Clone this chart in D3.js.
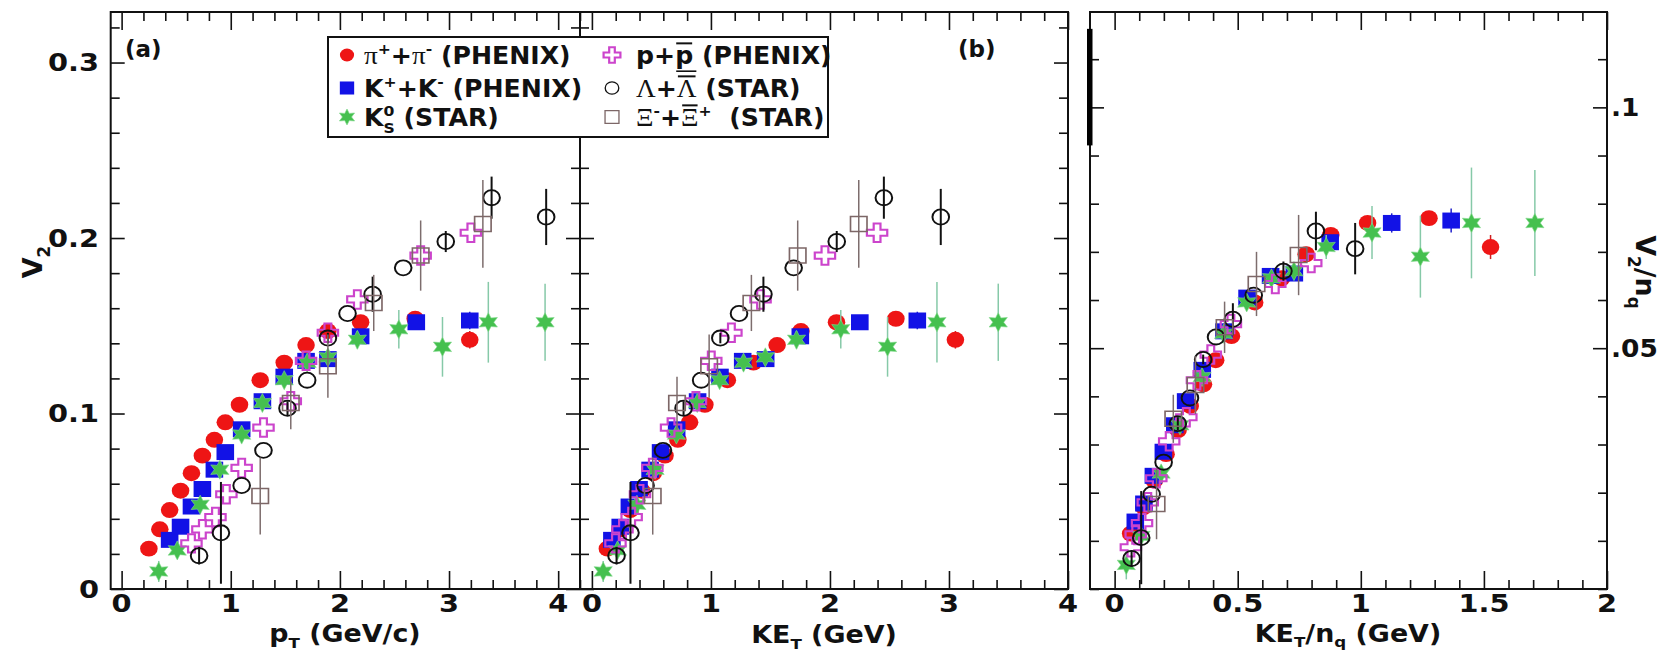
<!DOCTYPE html>
<html>
<head>
<meta charset="utf-8">
<script src="https://cdn.jsdelivr.net/npm/d3@7"></script>
<style>
  html, body { margin: 0; padding: 0; background: #fff; }
  svg { display: block; }
</style>
</head>
<body>
<script>
// ---------------- data ----------------
// pi+ + pi- (PHENIX)
const pionPt  = [0.25, 0.35, 0.44, 0.54, 0.64, 0.74, 0.85, 0.95, 1.08, 1.27, 1.49, 1.69, 1.89, 2.19, 2.69, 3.19];
const pionKEt = [0.130, 0.237, 0.322, 0.418, 0.516, 0.614, 0.722, 0.821, 0.949, 1.138, 1.357, 1.556, 1.756, 2.055, 2.554, 3.054];
const pionV2  = [0.023, 0.034, 0.045, 0.056, 0.066, 0.076, 0.085, 0.095, 0.105, 0.119, 0.129, 0.139, 0.147, 0.152, 0.154, 0.142];
const pionErr = [0, 0, 0, 0, 0, 0, 0, 0, 0, 0, 0, 0, 0, 0, 0.003, 0.005];

// K+ + K- (PHENIX)
const kaonPt  = [0.44, 0.54, 0.64, 0.74, 0.85, 0.95, 1.10, 1.29, 1.49, 1.69, 1.89, 2.19, 2.70, 3.19];
const kaonKEt = [0.168, 0.238, 0.315, 0.396, 0.489, 0.577, 0.712, 0.888, 1.076, 1.267, 1.460, 1.751, 2.251, 2.734];
const kaonV2  = [0.028, 0.0355, 0.047, 0.057, 0.068, 0.078, 0.091, 0.107, 0.121, 0.130, 0.131, 0.144, 0.152, 0.153];
const kaonErr = [0, 0, 0, 0, 0, 0, 0, 0, 0, 0, 0, 0, 0.004, 0.005];

// K0s (STAR)
const k0sPt  = [0.34, 0.51, 0.72, 0.90, 1.10, 1.29, 1.49, 1.70, 1.89, 2.16, 2.54, 2.94, 3.36, 3.88];
const k0sKEt = [0.095, 0.215, 0.378, 0.531, 0.710, 0.885, 1.073, 1.274, 1.457, 1.719, 2.091, 2.484, 2.899, 3.414];
const k0sV2  = [0.010, 0.022, 0.048, 0.068, 0.088, 0.106, 0.119, 0.129, 0.132, 0.142, 0.148, 0.138, 0.152, 0.152];
const k0sErr = [0.006, 0, 0, 0, 0, 0, 0, 0, 0, 0.005, 0.011, 0.017, 0.023, 0.022];

// p + pbar (PHENIX)
const protonPt  = [0.64, 0.74, 0.86, 0.96, 1.10, 1.30, 1.55, 1.69, 1.89, 2.16, 2.74, 3.20];
const protonKEt = [0.198, 0.257, 0.334, 0.404, 0.508, 0.665, 0.874, 1.003, 1.172, 1.417, 1.958, 2.396];
const protonV2  = [0.026, 0.034, 0.041, 0.054, 0.069, 0.092, 0.107, 0.130, 0.146, 0.165, 0.190, 0.203];
const protonErr = [0, 0, 0, 0, 0, 0, 0, 0, 0, 0, 0, 0];

// Lambda + Lambdabar (STAR)
const lambdaPt  = [0.71, 0.91, 1.10, 1.30, 1.52, 1.70, 1.89, 2.07, 2.30, 2.58, 2.97, 3.39, 3.89];
const lambdaKEt = [0.207, 0.324, 0.451, 0.597, 0.770, 0.918, 1.079, 1.236, 1.441, 1.695, 2.057, 2.453, 2.931];
const lambdaV2  = [0.019, 0.032, 0.059, 0.079, 0.103, 0.119, 0.143, 0.157, 0.168, 0.183, 0.198, 0.223, 0.212];
const lambdaErr = [0.005, 0.029, 0, 0, 0.004, 0, 0.003, 0, 0.010, 0, 0.006, 0.012, 0.016];

// Xi- + Xibar+ (STAR)
const xiPt  = [1.27, 1.55, 1.89, 2.31, 2.74, 3.31];
const xiKEt = [0.511, 0.715, 0.985, 1.340, 1.729, 2.242];
const xiV2  = [0.053, 0.106, 0.127, 0.163, 0.190, 0.208];
const xiErr = [0.022, 0.015, 0.018, 0.016, 0.020, 0.025];

// number of constituent quarks
const quarkCount = { pion: 2, kaon: 2, k0s: 2, proton: 3, lambda: 3, xi: 3 };

// tick labels
const ptTicks    = [0, 1, 2, 3, 4];
const ketTicks   = [0, 1, 2, 3, 4];
const scaledTicks = [0, 0.5, 1, 1.5, 2];
const scaledTickText = ["0", "0.5", "1", "1.5", "2"];
const v2Ticks    = [0, 0.1, 0.2, 0.3];
const v2TickText = ["0", "0.1", "0.2", "0.3"];
const v2nqTicks  = [0.05, 0.1];
const v2nqTickText = [".05", ".1"];

// ---------------- setup ----------------
const W = 1666, H = 655;
const BOLD = "'DejaVu Sans', 'Liberation Sans', sans-serif";
const GREEK = "'Liberation Serif', 'DejaVu Serif', serif";
const SP = "\u00a0";

const svg = d3.select("body").append("svg").attr("width", W).attr("height", H);

const xA = d3.scaleLinear().domain([-0.1, 4.2]).range([110.7, 580]);
const xB = d3.scaleLinear().domain([-0.1, 4.0]).range([580, 1068]);
const xC = d3.scaleLinear().domain([-0.1, 2.0]).range([1090, 1607]);
const yV2 = d3.scaleLinear().domain([0, 0.3288]).range([589, 12]);
const yC  = d3.scaleLinear().domain([0, 0.1198]).range([589, 12]);

const species = [
  { name: "pion",   pt: pionPt,   ket: pionKEt,   v2: pionV2,   err: pionErr },
  { name: "kaon",   pt: kaonPt,   ket: kaonKEt,   v2: kaonV2,   err: kaonErr },
  { name: "k0s",    pt: k0sPt,    ket: k0sKEt,    v2: k0sV2,    err: k0sErr },
  { name: "proton", pt: protonPt, ket: protonKEt, v2: protonV2, err: protonErr },
  { name: "lambda", pt: lambdaPt, ket: lambdaKEt, v2: lambdaV2, err: lambdaErr },
  { name: "xi",     pt: xiPt,     ket: xiKEt,     v2: xiV2,     err: xiErr }
];

// six-pointed star used for the K0s points
const star6 = {
  draw(ctx, size) {
    const R = Math.sqrt(size / 2.2), r = R * 0.52;
    for (let i = 0; i < 12; i++) {
      const a = Math.PI / 6 * i - Math.PI / 2;
      const rr = i % 2 ? r : R;
      const px = rr * Math.cos(a), py = rr * Math.sin(a);
      if (i) ctx.lineTo(px, py); else ctx.moveTo(px, py);
    }
    ctx.closePath();
  }
};

const styles = {
  pion:   { type: d3.symbolCircle, size: 200, lsize: 130, fill: "#ee1515", stroke: "none", sw: 0, err: "#cc2020", ew: 1.5 },
  kaon:   { type: d3.symbolSquare, size: 256, lsize: 170, fill: "#1212e6", stroke: "none", sw: 0, err: "#2020cc", ew: 1.5 },
  k0s:    { type: star6,           size: 200, lsize: 140, fill: "#45c04f", stroke: "#7fd98a", sw: 0.6, err: "#86c9a8", ew: 1.5 },
  proton: { type: d3.symbolCross,  size: 190, lsize: 130, fill: "none", stroke: "#cc44cc", sw: 2, err: "#cc55cc", ew: 1.5 },
  lambda: { type: d3.symbolCircle, size: 180, lsize: 120, fill: "none", stroke: "#111", sw: 1.8, err: "#111", ew: 2 },
  xi:     { type: d3.symbolSquare, size: 225, lsize: 160, fill: "none", stroke: "#7d6767", sw: 1.5, err: "#7d6d6d", ew: 1.5 }
};

// ---------------- frames and ticks ----------------
function frame(x, y, xMaj, xMin, yMaj, yMin) {
  const g = svg.append("g").attr("class", "frame");
  const [x0, x1] = x.range();
  const [y0, y1] = y.range();
  const add = (axis, values, len, tr) =>
    g.append("g").attr("transform", tr)
      .call(axis.tickValues(values).tickSize(len).tickSizeOuter(0).tickFormat(""));
  add(d3.axisBottom(x), xMaj, -18, `translate(0,${y0})`);
  add(d3.axisBottom(x), xMin, -9,  `translate(0,${y0})`);
  add(d3.axisTop(x),    xMaj, -18, `translate(0,${y1})`);
  add(d3.axisTop(x),    xMin, -9,  `translate(0,${y1})`);
  add(d3.axisLeft(y),   yMaj, -14, `translate(${x0},0)`);
  add(d3.axisLeft(y),   yMin, -9,  `translate(${x0},0)`);
  add(d3.axisRight(y),  yMaj, -14, `translate(${x1},0)`);
  add(d3.axisRight(y),  yMin, -9,  `translate(${x1},0)`);
  g.selectAll(".domain").remove();
  g.selectAll(".tick line").attr("stroke", "#111").attr("stroke-width", 1.6);
  g.append("rect").attr("x", x0).attr("y", y1).attr("width", x1 - x0).attr("height", y0 - y1)
    .attr("fill", "none").attr("stroke", "#111").attr("stroke-width", 2);
}

const near = (v, list) => list.some(t => Math.abs(t - v) < 1e-6);
const minorRange = (a, b, step, majors) =>
  d3.range(Math.round((b - a) / step) + 1).map(i => +(a + i * step).toFixed(4)).filter(v => !near(v, majors));

const v2Minor = minorRange(0, 0.32, 0.02, v2Ticks);
frame(xA, yV2, ptTicks, minorRange(0, 4.2, 0.2, ptTicks), v2Ticks, v2Minor);
frame(xB, yV2, ketTicks, minorRange(0, 4.0, 0.2, ketTicks), v2Ticks, v2Minor);
frame(xC, yC, scaledTicks, minorRange(0, 2.0, 0.1, scaledTicks), [0.05, 0.1], minorRange(0, 0.11, 0.01, [0.05, 0.1]));

// heavy bar on the left edge of the scaled panel
svg.append("rect").attr("x", 1087).attr("y", yC(0.1163)).attr("width", 5.5).attr("height", yC(0.0921) - yC(0.1163)).attr("fill", "#000");

// ---------------- tick labels ----------------
const tickFont = 24, tickStretch = 1.2;
function tickLabel(x, y, txt, anchor, stretch) {
  svg.append("text")
    .attr("transform", `translate(${x},${y}) scale(${stretch},1)`)
    .attr("text-anchor", anchor)
    .attr("font-family", BOLD).attr("font-weight", "bold").attr("font-size", tickFont)
    .attr("fill", "#111").text(txt);
}
ptTicks.forEach(v => tickLabel(xA(v), 612, String(v), "middle", tickStretch));
ketTicks.forEach(v => tickLabel(xB(v), 612, String(v), "middle", tickStretch));
scaledTicks.forEach((v, i) => tickLabel(xC(v), 612, scaledTickText[i], "middle", tickStretch));
v2Ticks.forEach((v, i) => tickLabel(99, yV2(v) + 8.5, v2TickText[i], "end", tickStretch));
v2nqTicks.forEach((v, i) => tickLabel(1611, yC(v) + 8.5, v2nqTickText[i], "start", 1.1));

// ---------------- rich text helper ----------------
// parts: {t, sub, sup, greek, over, under, hold}
function richText(parts, size, opts) {
  const outer = svg.append("g");
  const inner = outer.append("g");
  let cx = 0, held = 0;
  for (const p of parts) {
    const small = p.sub || p.sup;
    const fs = small ? size * 0.62 : size;
    const dy = p.sub ? size * (opts.subDrop || 0.3) : p.sup ? -size * 0.42 : 0;
    const t = inner.append("text").attr("x", cx).attr("y", dy)
      .attr("font-family", p.greek ? GREEK : BOLD)
      .attr("font-weight", p.greek ? "normal" : "bold")
      .attr("font-size", p.greek ? fs * 1.08 : fs).attr("fill", "#111").text(p.t);
    const w = t.node().getComputedTextLength();
    if (p.over) {
      inner.append("line").attr("x1", cx + 1).attr("x2", cx + w - 1)
        .attr("y1", -size * 0.86).attr("y2", -size * 0.86)
        .attr("stroke", "#111").attr("stroke-width", 2);
    }
    if (p.under) {
      inner.append("line").attr("x1", cx + 1).attr("x2", cx + w + 3)
        .attr("y1", size * 0.3).attr("y2", size * 0.3)
        .attr("stroke", "#111").attr("stroke-width", 1.6);
    }
    if (p.hold) { held = w; }
    else { cx += Math.max(w, held); held = 0; }
  }
  const stretch = opts.stretch || 1;
  const shift = opts.anchor === "middle" ? -cx / 2 : 0;
  inner.attr("transform", `translate(${shift},0)`);
  outer.attr("transform", `translate(${opts.x},${opts.y}) rotate(${opts.rotate || 0}) scale(${stretch},1)`);
  return outer;
}

// axis titles
richText([{ t: "p" }, { t: "T", sub: true }, { t: SP + "(GeV/c)" }], 24, { x: 345, y: 642, anchor: "middle", stretch: 1.12, subDrop: 0.24 });
richText([{ t: "KE" }, { t: "T", sub: true }, { t: SP + "(GeV)" }], 24, { x: 824, y: 643, anchor: "middle", stretch: 1.12, subDrop: 0.24 });
richText([{ t: "KE" }, { t: "T", sub: true }, { t: "/n" }, { t: "q", sub: true }, { t: SP + "(GeV)" }], 24, { x: 1348, y: 642, anchor: "middle", stretch: 1.12, subDrop: 0.2 });
richText([{ t: "V" }, { t: "2", sub: true }], 27, { x: 42, y: 262, anchor: "middle", rotate: -90 });
richText([{ t: "V" }, { t: "2", sub: true }, { t: "/n" }, { t: "q", sub: true }], 27, { x: 1636, y: 272, anchor: "middle", rotate: 90 });

// panel tags
richText([{ t: "(a)" }], 23, { x: 125, y: 57 });
richText([{ t: "(b)" }], 23, { x: 958, y: 57 });

// ---------------- data points ----------------
function drawPanel(xs, ys, getX, scaleBy) {
  for (const s of species) {
    const st = styles[s.name];
    const k = scaleBy ? quarkCount[s.name] : 1;
    const pts = s.v2.map((v, i) => ({ x: getX(s, i) / k, y: v / k, e: s.err[i] / k }));
    const g = svg.append("g").attr("class", "series-" + s.name);
    g.selectAll("line").data(pts.filter(d => d.e > 0)).join("line")
      .attr("x1", d => xs(d.x)).attr("x2", d => xs(d.x))
      .attr("y1", d => ys(d.y - d.e)).attr("y2", d => ys(d.y + d.e))
      .attr("stroke", st.err).attr("stroke-width", st.ew);
    g.selectAll("path").data(pts).join("path")
      .attr("d", d3.symbol().type(st.type).size(st.size)())
      .attr("transform", d => `translate(${xs(d.x)},${ys(d.y)}) scale(1.1,1)`)
      .attr("fill", st.fill).attr("stroke", st.stroke).attr("stroke-width", st.sw);
  }
}
drawPanel(xA, yV2, (s, i) => s.pt[i], false);
drawPanel(xB, yV2, (s, i) => s.ket[i], false);
drawPanel(xC, yC, (s, i) => s.ket[i], true);

// ---------------- legend ----------------
const legendEntries = [
  { name: "pion",   col: 0, row: 0, parts: [{ t: "π", greek: true }, { t: "+", sup: true }, { t: "+" }, { t: "π", greek: true }, { t: "-", sup: true }, { t: SP + "(PHENIX)" }] },
  { name: "kaon",   col: 0, row: 1, parts: [{ t: "K" }, { t: "+", sup: true }, { t: "+K" }, { t: "-", sup: true }, { t: SP + "(PHENIX)" }] },
  { name: "k0s",    col: 0, row: 2, parts: [{ t: "K" }, { t: "0", sup: true, hold: true }, { t: "S", sub: true }, { t: SP + "(STAR)" }] },
  { name: "proton", col: 1, row: 0, parts: [{ t: "p+" }, { t: "p", over: true, under: true }, { t: SP + "(PHENIX)" }] },
  { name: "lambda", col: 1, row: 1, parts: [{ t: "Λ", greek: true }, { t: "+" }, { t: "Λ", greek: true, over: true }, { t: SP + "(STAR)" }] },
  { name: "xi",     col: 1, row: 2, parts: [{ t: "Ξ", greek: true }, { t: "-", sup: true }, { t: "+" }, { t: "Ξ", greek: true, over: true }, { t: "+", sup: true }, { t: SP + SP + "(STAR)" }] }
];
const legendBox = { x: 328, y: 37, w: 500, h: 100 };
const rowBase = [64, 97, 126];
const colMarker = [347, 612];
const colText = [364, 636];

svg.append("rect").attr("x", legendBox.x).attr("y", legendBox.y)
  .attr("width", legendBox.w).attr("height", legendBox.h)
  .attr("fill", "#fff").attr("stroke", "#111").attr("stroke-width", 2);

legendEntries.forEach(e => {
  const st = styles[e.name];
  const yb = rowBase[e.row];
  svg.append("path")
    .attr("d", d3.symbol().type(st.type).size(st.lsize)())
    .attr("transform", `translate(${colMarker[e.col]},${yb - 9}) scale(1.1,1)`)
    .attr("fill", st.fill).attr("stroke", st.stroke)
    .attr("stroke-width", e.name === "lambda" || e.name === "xi" ? 1.2 : st.sw);
  richText(e.parts, 24, { x: colText[e.col], y: yb, stretch: 1.05 });
});
</script>
</body>
</html>
